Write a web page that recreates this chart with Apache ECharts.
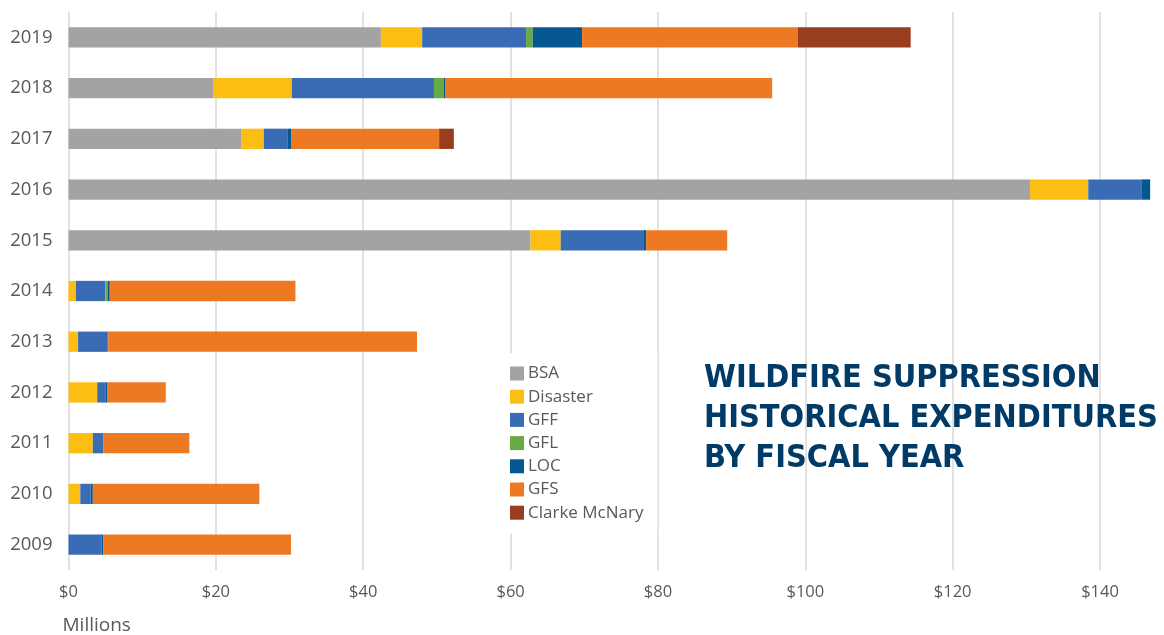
<!DOCTYPE html>
<html>
<head>
<meta charset="utf-8">
<script src="https://cdn.jsdelivr.net/npm/echarts@6/dist/echarts.min.js"></script>
<style>html,body{margin:0;padding:0;background:#fff}#c{width:1164px;height:635px}</style>
</head>
<body>
<div id="c"></div>
<script>
const years = ['2019','2018','2017','2016','2015','2014','2013','2012','2011','2010','2009'];
const seriesNames = ['BSA','Disaster','GFF','GFL','LOC','GFS','Clarke McNary'];
const BSA      = [42.4, 19.7, 23.5, 130.5, 62.7, 0,   0,    0,   0,    0,    0];
const Disaster = [5.6,  10.6, 3.0,  7.9,   4.1,  1.0, 1.3,  3.9, 3.3,  1.6,  0];
const GFF      = [14.1, 19.3, 3.2,  7.2,   11.3, 4.0, 4.0,  1.1, 1.4,  1.4,  4.5];
const GFL      = [0.9,  1.3,  0,    0,     0,    0.3, 0,    0,   0,    0,    0];
const LOC      = [6.7,  0.2,  0.5,  1.2,   0.3,  0.3, 0.1,  0.3, 0,    0.3,  0.2];
const GFS      = [29.3, 44.4, 20.1, 0,     11.0, 25.2, 41.9, 7.9, 11.7, 22.6, 25.5];
const Clarke   = [15.3, 0,    2.0,  0,     0,    0,   0,    0,   0,    0,    0];
const xTicks = [0, 20, 40, 60, 80, 100, 120, 140];
const titleLines = ['WILDFIRE SUPPRESSION', 'HISTORICAL EXPENDITURES', 'BY FISCAL YEAR'];

const values = [BSA, Disaster, GFF, GFL, LOC, GFS, Clarke];
const colors = ['#A3A3A2', '#FDBE14', '#3A6CB5', '#68AA45', '#04578F', '#ED7A23', '#983E1F'];

const chart = echarts.init(document.getElementById('c'));
chart.setOption({
  animation: false,
  backgroundColor: '#fff',
  textStyle: { fontFamily: "'Open Sans', 'Noto Sans', sans-serif" },
  title: {
    text: titleLines.join('\n'),
    left: 699,
    top: 354,
    textStyle: {
      fontFamily: "'Liberation Sans Narrow', 'DejaVu Sans Condensed', Roboto, sans-serif",
      fontWeight: 'bold',
      fontSize: 32.2,
      lineHeight: 40,
      color: '#003A66'
    }
  },
  grid: { left: 68.5, right: 5, top: 12, bottom: 65, containLabel: false },
  legend: {
    orient: 'vertical',
    left: 498,
    top: 353,
    padding: [12, 14, 12, 12],
    backgroundColor: '#fff',
    itemWidth: 14,
    itemHeight: 14,
    itemGap: 6.2,
    icon: 'rect',
    data: seriesNames,
    textStyle: { fontSize: 17, color: '#595959', lineHeight: 16, padding: [0, 0, 0, -1] }
  },
  xAxis: {
    type: 'value',
    min: 0,
    max: 148,
    interval: 20,
    name: 'Millions',
    nameLocation: 'start',
    nameGap: 0,
    nameTextStyle: { fontSize: 19, color: '#595959', align: 'left', verticalAlign: 'top', padding: [46, 0, 0, -6] },
    axisLine: { show: false },
    axisTick: { show: false },
    axisLabel: {
      fontSize: 16.5,
      color: '#595959',
      margin: 14,
      showMaxLabel: false,
      formatter: v => xTicks.indexOf(v) >= 0 ? '$' + v : ''
    },
    splitLine: { show: true, showMaxLine: false, lineStyle: { color: '#D9D9D9', width: 1.5 } }
  },
  yAxis: {
    type: 'category',
    data: years,
    inverse: true,
    axisLine: { show: false },
    axisTick: { show: false },
    axisLabel: { fontSize: 18.5, color: '#595959', margin: 16 }
  },
  series: seriesNames.map((n, i) => ({
    name: n,
    type: 'bar',
    stack: 'total',
    barWidth: '40%',
    data: values[i],
    itemStyle: { color: colors[i] },
    emphasis: { disabled: true }
  }))
});
</script>
</body>
</html>
